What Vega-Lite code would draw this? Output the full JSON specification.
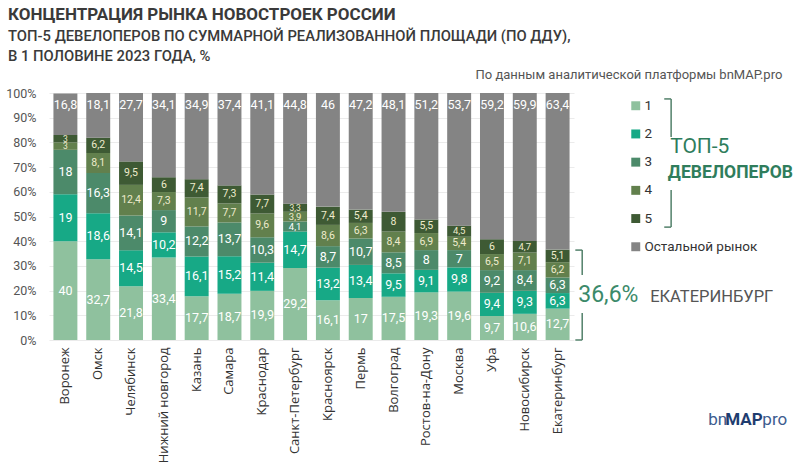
{
  "$schema": "https://vega.github.io/schema/vega-lite/v6.json",
  "autosize": "none",
  "width": 525,
  "height": 247,
  "padding": {"left": 49, "top": 93, "right": 226, "bottom": 126},
  "background": "white",
  "config": {
    "font": "Roboto",
    "view": {"stroke": null},
    "axis": {"labelFont": "Roboto"},
    "axisY": {"labelOverlap": false},
    "legend": {"labelFont": "Roboto"}
  },
  "title": {
    "text": "КОНЦЕНТРАЦИЯ РЫНКА НОВОСТРОЕК РОССИИ",
    "subtitle": ["ТОП-5 ДЕВЕЛОПЕРОВ ПО СУММАРНОЙ РЕАЛИЗОВАННОЙ ПЛОЩАДИ (ПО ДДУ),", "В 1 ПОЛОВИНЕ 2023 ГОДА, %"],
    "anchor": "start",
    "frame": "group",
    "dx": -41,
    "offset": 4,
    "font": "Roboto",
    "fontSize": 17,
    "fontWeight": "bold",
    "color": "#3a3a3a",
    "subtitleFont": "Roboto",
    "subtitleFontSize": 14.8,
    "subtitleFontWeight": 500,
    "subtitleColor": "#3a3a3a",
    "subtitlePadding": 5,
    "subtitleLineHeight": 20
  },
  "resolve": {"scale": {"x": "independent"}},
  "layer": [
    {
      "data": {"values": [
        {"city": "Воронеж", "1": 40, "2": 19, "3": 18, "4": 3, "5": 3, "Остальной рынок": 16.8},
        {"city": "Омск", "1": 32.7, "2": 18.6, "3": 16.3, "4": 8.1, "5": 6.2, "Остальной рынок": 18.1},
        {"city": "Челябинск", "1": 21.8, "2": 14.5, "3": 14.1, "4": 12.4, "5": 9.5, "Остальной рынок": 27.7},
        {"city": "Нижний новгород", "1": 33.4, "2": 10.2, "3": 9, "4": 7.3, "5": 6, "Остальной рынок": 34.1},
        {"city": "Казань", "1": 17.7, "2": 16.1, "3": 12.2, "4": 11.7, "5": 7.4, "Остальной рынок": 34.9},
        {"city": "Самара", "1": 18.7, "2": 15.2, "3": 13.7, "4": 7.7, "5": 7.3, "Остальной рынок": 37.4},
        {"city": "Краснодар", "1": 19.9, "2": 11.4, "3": 10.3, "4": 9.6, "5": 7.7, "Остальной рынок": 41.1},
        {"city": "Санкт-Петербург", "1": 29.2, "2": 14.7, "3": 4.1, "4": 3.9, "5": 3.3, "Остальной рынок": 44.8},
        {"city": "Красноярск", "1": 16.1, "2": 13.2, "3": 8.7, "4": 8.6, "5": 7.4, "Остальной рынок": 46},
        {"city": "Пермь", "1": 17, "2": 13.4, "3": 10.7, "4": 6.3, "5": 5.4, "Остальной рынок": 47.2},
        {"city": "Волгоград", "1": 17.5, "2": 9.5, "3": 8.5, "4": 8.4, "5": 8, "Остальной рынок": 48.1},
        {"city": "Ростов-на-Дону", "1": 19.3, "2": 9.1, "3": 8, "4": 6.9, "5": 5.5, "Остальной рынок": 51.2},
        {"city": "Москва", "1": 19.6, "2": 9.8, "3": 7, "4": 5.4, "5": 4.5, "Остальной рынок": 53.7},
        {"city": "Уфа", "1": 9.7, "2": 9.4, "3": 9.2, "4": 6.5, "5": 6, "Остальной рынок": 59.2},
        {"city": "Новосибирск", "1": 10.6, "2": 9.3, "3": 8.4, "4": 7.1, "5": 4.7, "Остальной рынок": 59.9},
        {"city": "Екатеринбург", "1": 12.7, "2": 6.3, "3": 6.3, "4": 6.2, "5": 5.1, "Остальной рынок": 63.4}
      ]},
      "transform": [
        {"fold": ["1", "2", "3", "4", "5", "Остальной рынок"], "as": ["s", "v"]},
        {"stack": "v", "groupby": ["city"], "sort": [{"field": "s", "order": "ascending"}], "as": ["y0", "y1"]},
        {"calculate": "datum.s == 'Остальной рынок' ? 95 : (datum.y0 + datum.y1) / 2", "as": "pos"},
        {"calculate": "replace(toString(datum.v), '.', ',')", "as": "lbl"}
      ],
      "encoding": {
        "x": {
          "field": "city", "type": "nominal", "sort": null,
          "scale": {"paddingInner": 0.27, "paddingOuter": 0.135},
          "axis": {
            "title": null, "labelAngle": -90, "labelAlign": "right", "labelBaseline": "middle",
            "labelPadding": 7, "ticks": false, "domain": false, "labelFontSize": 13,
            "labelColor": "#333333", "labelFont": "Open Sans"
          }
        }
      },
      "layer": [
        {
          "mark": {"type": "bar"},
          "encoding": {
            "y": {
              "field": "y1", "type": "quantitative",
              "scale": {"domain": [0, 100], "nice": false, "zero": false},
              "axis": {
                "title": null, "values": [0, 10, 20, 30, 40, 50, 60, 70, 80, 90, 100],
                "labelExpr": "datum.value + '%'", "domain": false, "ticks": false,
                "labelOverlap": false, "labelPadding": 13, "labelFontSize": 12.5, "labelColor": "#555555",
                "gridColor": "#ebebeb", "gridWidth": 1
              }
            },
            "y2": {"field": "y0"},
            "color": {
              "field": "s", "type": "nominal",
              "scale": {
                "domain": ["1", "2", "3", "4", "5", "Остальной рынок"],
                "range": ["#8fc19e", "#17a986", "#4c8a6a", "#62804d", "#3e5a34", "#848484"]
              },
              "legend": {
                "title": null, "orient": "none", "legendX": 580, "legendY": 6,
                "symbolType": "square", "symbolSize": 80, "symbolStrokeWidth": 0,
                "labelFontSize": 13.5, "labelColor": "#333333", "labelOffset": 2,
                "rowPadding": 13.2, "padding": 0
              }
            }
          }
        },
        {
          "mark": {"type": "text", "font": "Roboto", "baseline": "middle", "align": "center"},
          "encoding": {
            "y": {
              "field": "pos", "type": "quantitative",
              "scale": {"domain": [0, 100], "nice": false, "zero": false},
              "axis": {
                "title": null, "values": [0, 10, 20, 30, 40, 50, 60, 70, 80, 90, 100],
                "labelExpr": "datum.value + '%'", "domain": false, "ticks": false,
                "labelOverlap": false, "labelPadding": 13, "labelFontSize": 12.5, "labelColor": "#555555",
                "gridColor": "#ebebeb", "gridWidth": 1
              }
            },
            "text": {"field": "lbl"},
            "color": {
              "condition": {"test": "datum.s == '4' || datum.s == '5'", "value": "#eeebcc"},
              "value": "#ffffff"
            },
            "size": {
              "condition": [
                {"test": "datum.v <= 3.5", "value": 8.5},
                {"test": "datum.v < 5", "value": 9.5},
                {"test": "datum.s == '4' || datum.s == '5'", "value": 10.5}
              ],
              "value": 12.5
            }
          }
        }
      ]
    },
    {
      "data": {"values": [
        {"xa": 18.75, "ya": 97.6, "xb": 18.96, "yb": 97.6},
        {"xa": 18.96, "ya": 97.6, "xb": 18.96, "yb": 82.2},
        {"xa": 18.96, "ya": 60.7, "xb": 18.96, "yb": 45.7},
        {"xa": 18.75, "ya": 45.7, "xb": 18.96, "yb": 45.7},
        {"xa": 16.04, "ya": 36.4, "xb": 16.25, "yb": 36.4},
        {"xa": 16.25, "ya": 36.4, "xb": 16.25, "yb": 26.3},
        {"xa": 16.25, "ya": 10.9, "xb": 16.25, "yb": 0},
        {"xa": 16.04, "ya": 0, "xb": 16.25, "yb": 0}
      ]},
      "mark": {"type": "rule", "color": "#52806a", "strokeWidth": 1.5},
      "encoding": {
        "x": {"field": "xa", "type": "quantitative", "scale": {"domain": [0, 16], "nice": false, "zero": false}, "axis": null},
        "x2": {"field": "xb"},
        "y": {
          "field": "ya", "type": "quantitative",
          "scale": {"domain": [0, 100], "nice": false, "zero": false},
          "axis": {
            "title": null, "values": [0, 10, 20, 30, 40, 50, 60, 70, 80, 90, 100],
            "labelExpr": "datum.value + '%'", "domain": false, "ticks": false,
            "labelOverlap": false, "labelPadding": 13, "labelFontSize": 12.5, "labelColor": "#555555",
            "gridColor": "#ebebeb", "gridWidth": 1
          }
        },
        "y2": {"field": "yb"}
      }
    },
    {
      "data": {"values": [
        {"xa": 18.93, "ya": 78.1, "t": "ТОП-5", "kind": "top"},
        {"xa": 18.86, "ya": 67.6, "t": "ДЕВЕЛОПЕРОВ", "kind": "dev"},
        {"xa": 16.13, "ya": 18.2, "t": "36,6%", "kind": "pct"},
        {"xa": 18.32, "ya": 17.6, "t": "ЕКАТЕРИНБУРГ", "kind": "ekb"},
        {"xa": 22.35, "ya": 107.3, "t": "По данным аналитической платформы bnMAP.pro", "kind": "src"},
        {"xa": 20.09, "ya": -32.4, "t": "bn", "kind": "bn"},
        {"xa": 20.61, "ya": -32.4, "t": "MAP", "kind": "map"},
        {"xa": 21.74, "ya": -32.4, "t": "pro", "kind": "pro"}
      ]},
      "layer": [
        {
          "transform": [{"filter": "datum.kind == 'top'"}],
          "mark": {"type": "text", "align": "left", "baseline": "middle", "fontSize": 21, "color": "#2f7d5c", "font": "Roboto", "fontWeight": 400}
        },
        {
          "transform": [{"filter": "datum.kind == 'dev'"}],
          "mark": {"type": "text", "align": "left", "baseline": "middle", "fontSize": 17.5, "color": "#2f7d5c", "font": "Roboto", "fontWeight": "bold"}
        },
        {
          "transform": [{"filter": "datum.kind == 'pct'"}],
          "mark": {"type": "text", "align": "left", "baseline": "middle", "fontSize": 23, "color": "#3b8a6a", "font": "Roboto", "fontWeight": 400}
        },
        {
          "transform": [{"filter": "datum.kind == 'ekb'"}],
          "mark": {"type": "text", "align": "left", "baseline": "middle", "fontSize": 16.5, "color": "#555555", "font": "Roboto"}
        },
        {
          "transform": [{"filter": "datum.kind == 'src'"}],
          "mark": {"type": "text", "align": "right", "baseline": "middle", "fontSize": 13, "color": "#555555", "font": "Roboto"}
        },
        {
          "transform": [{"filter": "datum.kind == 'bn' || datum.kind == 'pro'"}],
          "mark": {"type": "text", "align": "left", "baseline": "middle", "fontSize": 17, "color": "#3d5c8f", "font": "Roboto"}
        },
        {
          "transform": [{"filter": "datum.kind == 'map'"}],
          "mark": {"type": "text", "align": "left", "baseline": "middle", "fontSize": 17, "color": "#1f3d70", "font": "Roboto", "fontWeight": "bold"}
        }
      ],
      "encoding": {
        "x": {"field": "xa", "type": "quantitative", "scale": {"domain": [0, 16], "nice": false, "zero": false}, "axis": null},
        "y": {
          "field": "ya", "type": "quantitative",
          "scale": {"domain": [0, 100], "nice": false, "zero": false},
          "axis": {
            "title": null, "values": [0, 10, 20, 30, 40, 50, 60, 70, 80, 90, 100],
            "labelExpr": "datum.value + '%'", "domain": false, "ticks": false,
            "labelOverlap": false, "labelPadding": 13, "labelFontSize": 12.5, "labelColor": "#555555",
            "gridColor": "#ebebeb", "gridWidth": 1
          }
        },
        "text": {"field": "t"}
      }
    }
  ]
}
